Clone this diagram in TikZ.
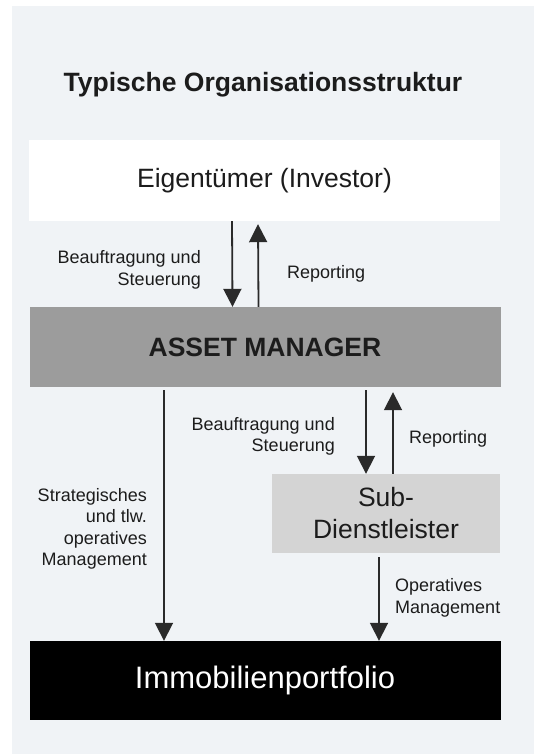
\documentclass[tikz,border=0pt]{standalone}
\usepackage{fontspec}
\setmainfont{Liberation Sans}
\usetikzlibrary{positioning}
\usetikzlibrary{arrows.meta}

\definecolor{panelbg}{HTML}{F0F3F6}
\definecolor{amgray}{HTML}{9C9C9C}
\definecolor{subgray}{HTML}{D4D4D4}
\definecolor{inkdark}{HTML}{1C1C1C}
\definecolor{arrowdark}{HTML}{2A2A2A}

\tikzset {
    box/.style = {shape=rectangle, inner sep=0pt, minimum width=471pt, minimum height=80pt, text=inkdark},
    big/.style = {font=\fontsize{26.5}{32}\selectfont},
    lbl/.style = {inner sep=0pt, text=inkdark, font=\fontsize{18}{21.5}\selectfont},
    arr/.style = {draw=arrowdark, line width=1.8pt, -{Triangle[width=18pt,length=18pt]}}
}

\begin{document}
\begin{tikzpicture}[x=1pt, y=-1pt]
	\useasboundingbox (0,0) rectangle (534,754);
	\fill[panelbg] (12,6) rectangle (534,754);

	\node (title) [inner sep=0pt, text=inkdark, font=\fontsize{26.5}{32}\selectfont\bfseries] at (263,85) {Typische Organisationsstruktur};

	\node (owner) [box, big, fill=white, minimum height=81pt] at (264.5,180.5) {Eigentümer (Investor)};
	\node (am) [box, big, fill=amgray, font=\fontsize{26.5}{32}\selectfont\bfseries] at (265,347) {ASSET MANAGER};
	\node (sub) [box, big, fill=subgray, minimum width=228pt, minimum height=79pt, align=center] at (386,513.5) {Sub-\\Dienstleister};
	\node (portfolio) [box, fill=black, text=white, minimum height=79pt, font=\fontsize{31}{36}\selectfont] at (265,680.5) {Immobilienportfolio};

	% owner <-> asset manager
	\draw[arr] ([xshift=-32.5pt]owner.south) -- ([xshift=-32.5pt]am.north);
	\draw[arr] ([xshift=-6.5pt]am.north) -- ([xshift=-6.5pt,yshift=-3pt]owner.south);
	\node (order1) [lbl, align=right, anchor=east] at (201,270) {Beauftragung und\\Steuerung};
	\node (report1) [lbl, anchor=west] at (287,274) {Reporting};

	% asset manager -> portfolio, asset manager <-> sub
	\draw[arr, shorten <=3pt] ([xshift=-101pt]am.south) -- ([xshift=-101pt]portfolio.north);
	\draw[arr, shorten <=3pt] ([xshift=101pt]am.south) -- ([xshift=-20pt]sub.north);
	\draw[arr] ([xshift=7pt]sub.north) -- ([xshift=128pt,yshift=-5pt]am.south);
	\draw[arr, shorten <=4pt] ([xshift=-7pt]sub.south) -- ([xshift=114pt]portfolio.north);

	\node (order2) [lbl, align=right, anchor=east] at (335,436.5) {Beauftragung und\\Steuerung};
	\node (report2) [lbl, anchor=west] at (409,439) {Reporting};
	\node (strat) [lbl, align=right, anchor=east] at (147,529) {Strategisches\\und tlw.\\operatives\\Management};
	\node (oper) [lbl, align=left, anchor=west] at (395,598) {Operatives\\Management};
\end{tikzpicture}
\end{document}
